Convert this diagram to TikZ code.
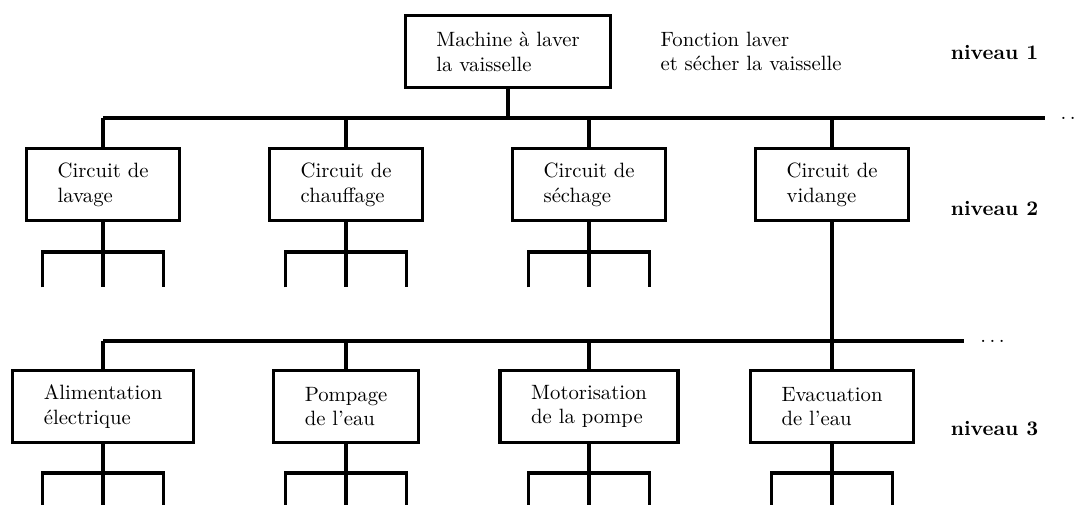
\documentclass[tikz,border=0pt]{standalone}
\usepackage{tikz}

\begin{document}
\begin{tikzpicture}[
    boite/.style={draw, ultra thick, align=left, inner xsep=15pt, minimum height=1.22cm},
    lien/.style={ultra thick},
    niveau/.style={font=\bfseries}]
    \useasboundingbox (0,0) rectangle (18.3,8.556);

    % draw level 1
    \node[boite] (machine) at (8.624,7.682) {Machine à laver\\la vaisselle};
    \node[anchor=west, align=left] (fonction) at (11.09,7.682) {Fonction laver\\et sécher la vaisselle};
    \node[niveau] (niv1) at (16.883,7.673) {niveau 1};

    % draw horizontal lines
    \coordinate (bus1g) at (1.75,6.553);
    \coordinate (bus1d) at (17.74,6.553);
    \coordinate (bus2g) at (1.75,2.767);
    \coordinate (bus2d) at (16.365,2.767);
    \draw[lien] (bus1g) -- (bus1d);
    \draw[lien] (bus2g) -- (bus2d);
    \node[anchor=base west] (suite1) at (17.88,6.53) {$\ldots$};
    \node[anchor=base west] (suite2) at (16.52,2.745) {$\ldots$};
    \draw[lien] (machine) -- (machine |- bus1g);

    % draw level 2
    \foreach \nom/\x/\texte in {lavage/1.75/{Circuit de\\lavage},
                                chauffage/5.875/{Circuit de\\chauffage},
                                sechage/10/{Circuit de\\séchage},
                                vidange/14.125/{Circuit de\\vidange}}
    {
    \node[boite] (\nom) at (\x,5.424) {\texte};
    \draw[lien] (\nom.north) -- (\nom |- bus1g);
    }
    \node[niveau] (niv2) at (16.883,5.025) {niveau 2};

    % draw level 3
    \foreach \nom/\x/\texte in {alimentation/1.75/{Alimentation\\électrique},
                                pompage/5.875/{Pompage\\de l'eau},
                                motorisation/10/{Motorisation\\de la pompe},
                                evacuation/14.125/{Evacuation\\de l'eau}}
    {
    \node[boite] (\nom) at (\x,1.655) {\texte};
    \draw[lien] (\nom.north) -- (\nom |- bus2g);
    }
    \node[niveau] (niv3) at (16.883,1.273) {niveau 3};
    \draw[lien] (vidange) -- (evacuation);

    % draw the open branches
    \foreach \nom in {lavage,chauffage,sechage}
    {
    \draw[lien] (\nom.south) -- ++(0,-0.51) coordinate (\nom-b) -- ++(0,-0.6);
    \draw[lien] (\nom-b) ++(-1.03,-0.6) |- ++(2.06,0.6) -- ++(0,-0.6);
    }
    \foreach \nom in {alimentation,pompage,motorisation,evacuation}
    {
    \draw[lien] (\nom.south) -- ++(0,-0.49) coordinate (\nom-b) -- ++(0,-0.6);
    \draw[lien] (\nom-b) ++(-1.03,-0.6) |- ++(2.06,0.6) -- ++(0,-0.6);
    }
\end{tikzpicture}
\end{document}
